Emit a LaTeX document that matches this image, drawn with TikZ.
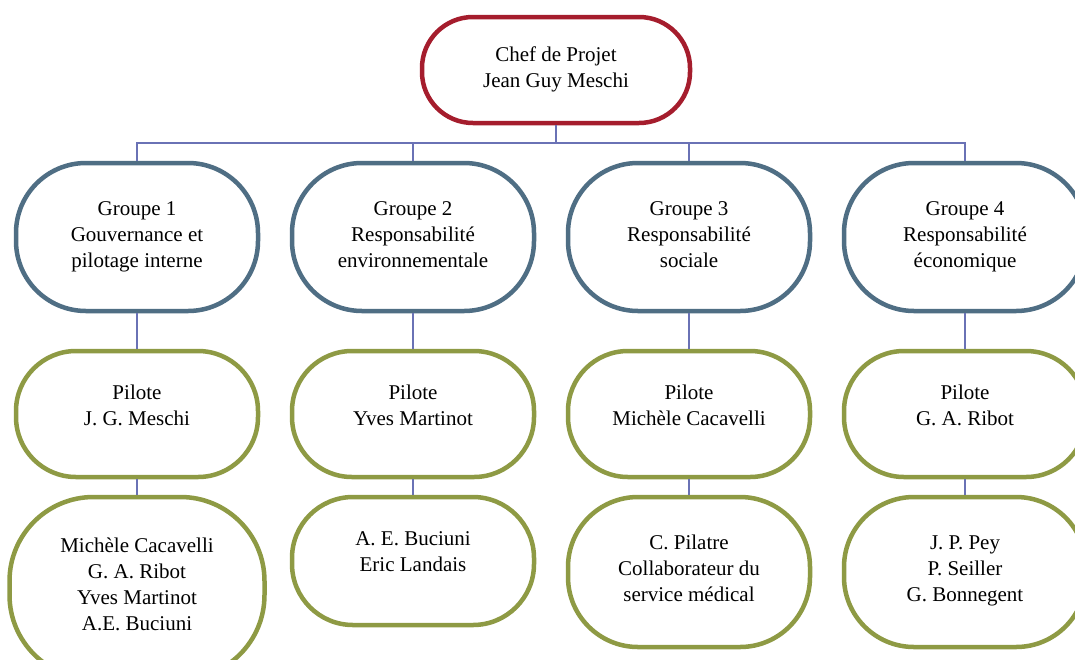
\documentclass[tikz,border=0pt]{standalone}
\usepackage{fontspec}
\setmainfont{Liberation Serif}
\definecolor{chefred}{HTML}{A51D2D}
\definecolor{grpblue}{HTML}{4F6E84}
\definecolor{pilolive}{HTML}{8E9A44}
\definecolor{connblue}{HTML}{6A72B5}
\tikzset{
  box/.style={rectangle, line width=4.5pt, fill=white, inner sep=0pt},
  chefbox/.style={box, draw=chefred, rounded corners=51pt, minimum width=268pt, minimum height=106pt},
  grpbox/.style={box, draw=grpblue, rounded corners=70pt, minimum width=242pt, minimum height=148pt},
  pilbox/.style={box, draw=pilolive, rounded corners=60pt, minimum width=242pt, minimum height=126pt},
  membox/.style={box, draw=pilolive, rounded corners=66pt, minimum width=242pt},
  txt/.style={align=center, font=\fontsize{21pt}{26pt}\selectfont, inner sep=0pt},
  conn/.style={draw=connblue, line width=1.4pt}
}
\begin{document}
\begin{tikzpicture}[x=1pt,y=-1pt]
\useasboundingbox (0,0) rectangle (1075,659);
\clip (0,0) rectangle (1075,659);
\fill[white] (0,0) rectangle (1075,659);
\coordinate (bus) at (556,143);
% boxes
\node[chefbox] (chef) at (556,70) {};
\node[grpbox] (g1) at (137,237) {};
\node[grpbox] (g2) at (413,237) {};
\node[grpbox] (g3) at (689,237) {};
\node[grpbox] (g4) at (965,237) {};
\node[pilbox] (p1) at (137,414) {};
\node[pilbox] (p2) at (413,414) {};
\node[pilbox] (p3) at (689,414) {};
\node[pilbox] (p4) at (965,414) {};
\node[membox, minimum width=255pt, minimum height=182pt, rounded corners=84pt] (m1) at (137,588) {};
\node[membox, minimum height=128pt, rounded corners=61pt] (m2) at (413,561) {};
\node[membox, minimum height=150pt, rounded corners=70pt] (m3) at (689,572) {};
\node[membox, minimum height=150pt, rounded corners=70pt] (m4) at (965,572) {};
% connectors
\draw[conn] (chef.south) -- (bus);
\draw[conn] (bus) -| (g1.north);
\draw[conn] (bus) -| (g2.north);
\draw[conn] (bus) -| (g3.north);
\draw[conn] (bus) -| (g4.north);
\foreach \i in {1,2,3,4}{
  \draw[conn] (g\i.south) -- (p\i.north);
  \draw[conn] (p\i.south) -- (m\i.north);
}
% texts
\node[txt] (tchef) at ([yshift=1pt]chef.center) {\strut Chef de Projet\\Jean Guy Meschi\strut};
\node[txt] (tg1) at ([yshift=0.5pt]g1.center) {\strut Groupe 1\\Gouvernance et\\pilotage interne\strut};
\node[txt] (tg2) at ([yshift=0.5pt]g2.center) {\strut Groupe 2\\Responsabilité\\environnementale\strut};
\node[txt] (tg3) at ([yshift=0.5pt]g3.center) {\strut Groupe 3\\Responsabilité\\sociale\strut};
\node[txt] (tg4) at ([yshift=0.5pt]g4.center) {\strut Groupe 4\\Responsabilité\\économique\strut};
\node[txt] (tp1) at ([yshift=7pt]p1.center) {\strut Pilote\\J. G. Meschi\strut};
\node[txt] (tp2) at ([yshift=7pt]p2.center) {\strut Pilote\\Yves Martinot\strut};
\node[txt] (tp3) at ([yshift=7pt]p3.center) {\strut Pilote\\Michèle Cacavelli\strut};
\node[txt] (tp4) at ([yshift=7pt]p4.center) {\strut Pilote\\G. A. Ribot\strut};
\node[txt] (tm1) at ([yshift=2pt]m1.center) {\strut Michèle Cacavelli\\G. A. Ribot\\Yves Martinot\\A.E. Buciuni\strut};
\node[txt] (tm2) at ([yshift=7.5pt]m2.center) {\strut A. E. Buciuni\\Eric Landais\strut};
\node[txt] (tm3) at ([yshift=2pt]m3.center) {\strut C. Pilatre\\Collaborateur du\\service médical\strut};
\node[txt] (tm4) at ([yshift=2pt]m4.center) {\strut J. P. Pey\\P. Seiller\\G. Bonnegent\strut};
\end{tikzpicture}
\end{document}
